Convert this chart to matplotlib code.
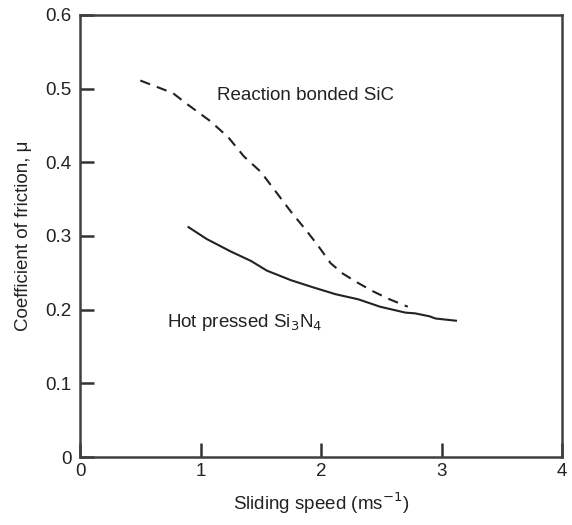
import numpy as np
import matplotlib
matplotlib.use("Agg")
import matplotlib.pyplot as plt

plt.rcParams['font.family'] = ['Liberation Sans', 'DejaVu Sans']

# Reaction bonded SiC (dashed)
sic_speed = [0.50, 0.77, 0.88, 1.08, 1.23, 1.36, 1.50, 1.63, 1.75, 1.88,
             1.97, 2.08, 2.18, 2.31, 2.43, 2.57, 2.72]
sic_mu = [0.511, 0.494, 0.480, 0.456, 0.434, 0.408, 0.387, 0.359, 0.333, 0.307,
          0.288, 0.263, 0.249, 0.236, 0.225, 0.214, 0.204]

# Hot pressed Si3N4 (solid)
si3n4_speed = [0.90, 1.05, 1.25, 1.42, 1.55, 1.75, 1.94, 2.12, 2.31, 2.49,
               2.70, 2.78, 2.90, 2.95, 3.12]
si3n4_mu = [0.312, 0.296, 0.279, 0.266, 0.253, 0.240, 0.230, 0.221, 0.214, 0.204,
            0.196, 0.195, 0.191, 0.188, 0.185]

xticks = [0, 1, 2, 3, 4]
yticks = [0, 0.1, 0.2, 0.3, 0.4, 0.5, 0.6]
ytick_labels = ['0', '0.1', '0.2', '0.3', '0.4', '0.5', '0.6']

fig = plt.figure(figsize=(5.72, 5.25), dpi=100)
ax = fig.add_axes([0.140, 0.1295, 0.8425, 0.842])

line_col = '#222222'
fs = 13.5
ax.plot(sic_speed, sic_mu, color=line_col, lw=1.5, linestyle=(0, (5, 3.5)))
ax.plot(si3n4_speed, si3n4_mu, color=line_col, lw=1.5)

ax.text(1.14, 0.491, 'Reaction bonded SiC', fontsize=fs, va='center', ha='left', color='#222222')
ax.text(0.72, 0.183, 'Hot pressed Si$_3$N$_4$', fontsize=fs, va='center', ha='left', color='#222222')

ax.set_xlim(0, 4)
ax.set_ylim(0, 0.6)
ax.set_xticks(xticks)
ax.set_xticklabels([str(t) for t in xticks])
ax.set_yticks(yticks)
ax.set_yticklabels(ytick_labels)

for s in ['left', 'bottom', 'right', 'top']:
    ax.spines[s].set_linewidth(1.8)
    ax.spines[s].set_color('#404040')

ax.tick_params(direction='in', length=10, width=1.8, color='#333333',
               labelsize=fs, labelcolor='#222222')
ax.tick_params(axis='y', pad=6)
ax.tick_params(axis='x', pad=4)

ax.set_xlabel('Sliding speed (ms$^{-1}$)', fontsize=fs, color='#222222', labelpad=8)
ax.set_ylabel('Coefficient of friction, \u03bc', fontsize=fs, color='#222222', labelpad=10)

fig.savefig('out.png', dpi=100)
